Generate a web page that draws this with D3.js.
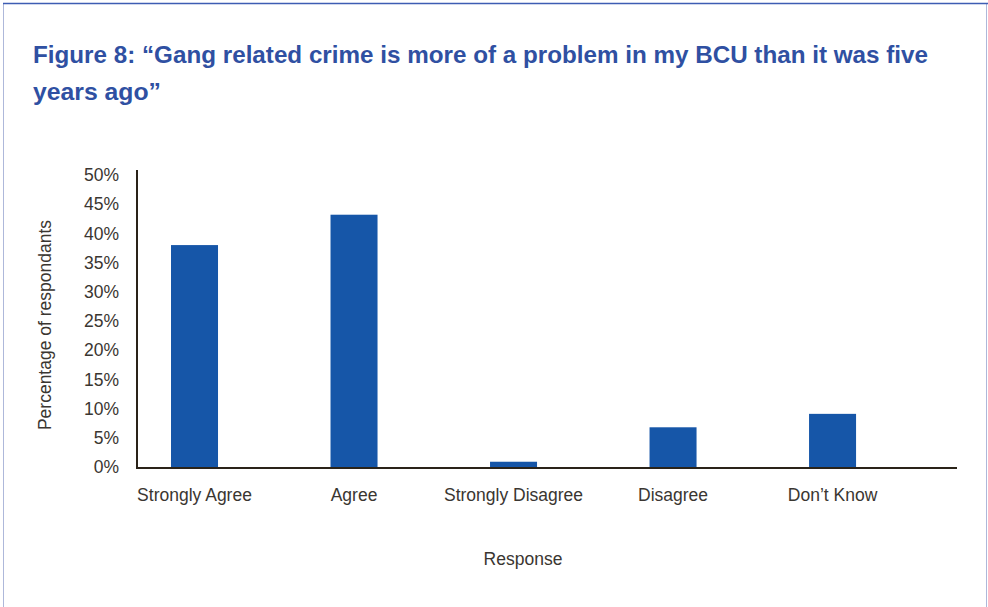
<!DOCTYPE html>
<html>
<head>
<meta charset="utf-8">
<script src="https://cdn.jsdelivr.net/npm/d3@7"></script>
<style>
html,body{margin:0;padding:0;background:#fff;}
svg{display:block;}
</style>
</head>
<body>
<svg id="chart" width="988" height="607"></svg>
<script>
const categories = ["Strongly Agree", "Agree", "Strongly Disagree", "Disagree", "Don\u2019t Know"];
const values = [38.0, 43.2, 0.9, 6.8, 9.1];
const yTicks = [0, 5, 10, 15, 20, 25, 30, 35, 40, 45, 50];
const titleLines = ["Figure 8: \u201cGang related crime is more of a problem in my BCU than it was five", "years ago\u201d"];
const yTitle = "Percentage of respondants";
const xTitle = "Response";

const svg = d3.select("#chart");
const font = "'Liberation Sans', Arial, Helvetica, sans-serif";
const textCol = "#3a3631";

// frame
svg.append("rect").attr("x", 3.5).attr("y", 3.5).attr("width", 983).attr("height", 610)
  .attr("fill", "none").attr("stroke", "#aeb8da").attr("stroke-width", 1);
svg.append("line").attr("x1", 3).attr("x2", 988).attr("y1", 3.5).attr("y2", 3.5)
  .attr("stroke", "#3d5db3").attr("stroke-width", 1.5);

// title
const tl = [[33, 63, 895], [33, 100, 128]];
titleLines.forEach((t, i) => {
  svg.append("text").attr("x", tl[i][0]).attr("y", tl[i][1])
    .attr("font-family", font).attr("font-weight", "bold").attr("font-size", 24.5)
    .attr("fill", "#2f50a2").attr("textLength", tl[i][2]).attr("lengthAdjust", "spacingAndGlyphs")
    .text(t);
});

const x0 = 137, x1 = 957, yTop = 175, yBot = 467;
const y = d3.scaleLinear().domain([0, 50]).range([yBot, yTop]);
const x = d3.scaleBand().domain(categories).range([x0, x1])
  .paddingInner(0.7053).paddingOuter(0.423).align(0.252);

// bars
svg.append("g").selectAll("rect").data(values).join("rect")
  .attr("x", (d, i) => x(categories[i]))
  .attr("width", x.bandwidth())
  .attr("y", d => y(d))
  .attr("height", d => y(0) - y(d))
  .attr("fill", "#1656a8");

// y axis
const yAxis = d3.axisLeft(y).tickValues(yTicks).tickSize(0).tickPadding(18).tickFormat(d => d + "%");
const gy = svg.append("g").attr("transform", `translate(${x0},0)`).call(yAxis);
gy.select(".domain").remove();
gy.selectAll("text").attr("font-family", font).attr("font-size", 17.5).attr("fill", textCol);
svg.append("line").attr("x1", x0).attr("x2", x0).attr("y1", 170).attr("y2", yBot + 1)
  .attr("stroke", "#2a2319").attr("stroke-width", 2);

// x axis
const xAxis = d3.axisBottom(x).tickSize(0).tickPadding(22);
const gx = svg.append("g").attr("transform", `translate(0,${yBot})`).call(xAxis);
gx.select(".domain").remove();
gx.selectAll("text").attr("font-family", font).attr("font-size", 17.5).attr("fill", textCol);
svg.append("line").attr("x1", x0 - 1).attr("x2", x1).attr("y1", yBot + 1).attr("y2", yBot + 1)
  .attr("stroke", "#2a2319").attr("stroke-width", 2);

// axis titles
svg.append("text").attr("transform", "translate(51,325) rotate(-90)")
  .attr("text-anchor", "middle").attr("font-family", font).attr("font-size", 17.5)
  .attr("fill", textCol).text(yTitle);
svg.append("text").attr("x", 523).attr("y", 565).attr("text-anchor", "middle")
  .attr("font-family", font).attr("font-size", 17.5).attr("fill", textCol).text(xTitle);
</script>
</body>
</html>
